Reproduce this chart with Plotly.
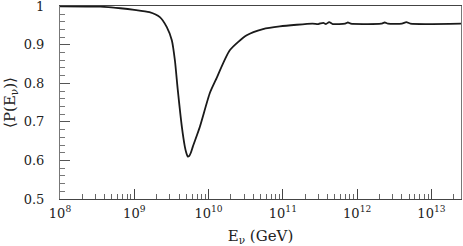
import plotly.graph_objects as go

# Neutrino energy (GeV) and averaged probability
energy = [1.0e8, 3.5e8, 6.5e8, 1.0e9, 1.6e9, 2.21e9, 2.74e9, 3.2e9, 3.52e9, 3.85e9,
          4.37e9, 4.79e9, 5.01e9, 5.25e9, 5.5e9, 5.77e9, 6.14e9, 7.62e9, 1.04e10,
          1.25e10, 1.93e10, 3.26e10, 5.4e10, 9.1e10, 2.5e11,
          3.0e11, 3.5e11, 3.8e11, 4.2e11, 4.7e11, 6.9e11, 7.5e11, 8.2e11,
          1.2e12, 2.1e12, 2.35e12, 2.6e12, 4.0e12, 4.6e12, 5.2e12, 2.5e13]
prob = [1.000, 0.999, 0.995, 0.991, 0.985, 0.972, 0.946, 0.912, 0.860, 0.783,
        0.687, 0.636, 0.620, 0.610, 0.612, 0.620, 0.636, 0.687, 0.775,
        0.809, 0.886, 0.925, 0.941, 0.948, 0.955,
        0.954, 0.957, 0.954, 0.959, 0.954, 0.955, 0.958, 0.955,
        0.954, 0.955, 0.958, 0.955, 0.955, 0.959, 0.955, 0.955]

x_tickvals = [1e8, 1e9, 1e10, 1e11, 1e12, 1e13]
x_ticktext = ["10<sup>8</sup>", "10<sup>9</sup>", "10<sup>10</sup>", "10<sup>11</sup>",
              "10<sup>12</sup>", "10<sup>13</sup>"]
y_tickvals = [0.5, 0.6, 0.7, 0.8, 0.9, 1.0]
y_ticktext = ["0.5", "0.6", "0.7", "0.8", "0.9", "1"]

font = dict(family="DejaVu Serif", size=13, color="#222")
title_font = dict(family="DejaVu Serif", size=15, color="#222")

fig = go.Figure()
fig.add_trace(go.Scatter(x=energy, y=prob, mode="lines",
                         line=dict(color="#1a1a1a", width=1.8, shape="spline", smoothing=0.6),
                         showlegend=False, hoverinfo="skip"))

fig.update_layout(
    width=463, height=246,
    margin=dict(l=60, r=2, t=6, b=47, autoexpand=False),
    paper_bgcolor="white", plot_bgcolor="white",
    font=font,
    xaxis=dict(type="log", range=[8, 13.398], tickvals=x_tickvals, ticktext=x_ticktext,
               ticks="inside", ticklen=10, tickwidth=1, tickcolor="#444",
               minor=dict(ticks="inside", ticklen=5, tickcolor="#666", showgrid=False,
                          tickvals=[m * 10**e for e in range(8, 14) for m in range(2, 10)]),
               showline=True, linecolor="#444", linewidth=1, mirror=True,
               showgrid=False, zeroline=False, automargin=False, ticklabeloverflow="allow",
               ticklabelstandoff=2,
               title=dict(text="E<sub>ν</sub> (GeV)", font=title_font, standoff=12)),
    yaxis=dict(range=[0.5, 1.0008], tickvals=y_tickvals, ticktext=y_ticktext,
               ticks="inside", ticklen=10, tickwidth=1, tickcolor="#555",
               minor=dict(ticks="inside", ticklen=5, tickcolor="#777", dtick=0.02, showgrid=False),
               showline=True, linecolor="#777", linewidth=1, mirror=True,
               showgrid=False, zeroline=False, ticklabelstandoff=12,
               automargin=False, ticklabeloverflow="allow",
               title=dict(text="⟨P(E<sub>ν</sub>)⟩", font=title_font, standoff=4)),
)

fig.write_html("out.html", config={"displayModeBar": False},
               post_script="document.body.style.margin='0';")
